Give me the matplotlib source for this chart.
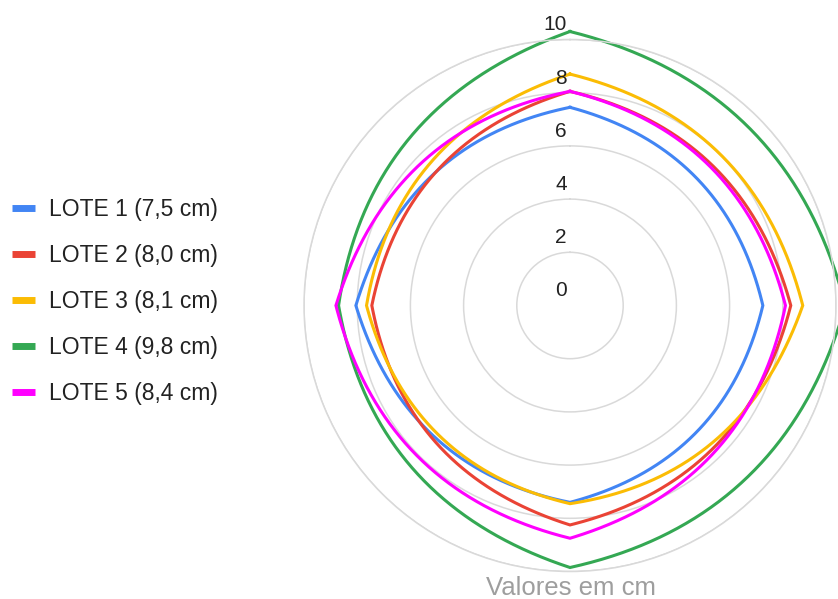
import numpy as np
import matplotlib
matplotlib.use("Agg")
import matplotlib.pyplot as plt
from matplotlib.lines import Line2D

plt.rcParams['font.family'] = ['Liberation Sans', 'DejaVu Sans']

# Radar data: four measurement directions per batch (top, right, bottom, left), in cm
lotes = ["LOTE 1", "LOTE 2", "LOTE 3", "LOTE 4", "LOTE 5"]
lote1 = [7.45, 7.25, 7.40, 8.05]
lote2 = [8.05, 8.30, 8.25, 7.45]
lote3 = [8.70, 8.75, 7.45, 7.65]
lote4 = [10.30, 10.35, 9.85, 8.70]
lote5 = [8.05, 8.10, 8.75, 8.80]
series = [lote1, lote2, lote3, lote4, lote5]
colors = ["#4285F4", "#EA4335", "#FBBC04", "#34A853", "#FF00FF"]

radial_ticks = [0, 2, 4, 6, 8, 10]
axis_title = "Valores em cm"


def rounded_loop(values, bulge=1.13, steps=80):
    """Closed outline through the radar points, each side drawn as a
    quadratic Bezier bowing outwards; returns (theta, r) for a polar axes."""
    vals = np.asarray(values, dtype=float)
    m = len(vals)
    th = np.linspace(0, 2 * np.pi, m, endpoint=False)
    px, py = vals * np.sin(th), vals * np.cos(th)
    t = np.linspace(0, 1, steps)
    xs, ys = [], []
    for i in range(m):
        j = (i + 1) % m
        tm = th[i] + np.pi / m
        rc = bulge * (vals[i] + vals[j]) / 2
        cx, cy = rc * np.sin(tm), rc * np.cos(tm)
        xs.append((1 - t) ** 2 * px[i] + 2 * t * (1 - t) * cx + t ** 2 * px[j])
        ys.append((1 - t) ** 2 * py[i] + 2 * t * (1 - t) * cy + t ** 2 * py[j])
    x = np.concatenate(xs)
    y = np.concatenate(ys)
    return np.arctan2(x, y), np.hypot(x, y)


W, H = 838, 599
fig = plt.figure(figsize=(W / 100, H / 100), dpi=100)
cx_px, cy_px, rad_px = 570, 305.5, 266
ax = fig.add_axes([(cx_px - rad_px) / W, (H - cy_px - rad_px) / H,
                   2 * rad_px / W, 2 * rad_px / H], projection="polar")
ax.set_theta_zero_location("N")
ax.set_theta_direction(-1)
ax.set_ylim(0, 10)
ax.set_yticks(radial_ticks[1:])
ax.set_yticklabels([])
ax.set_xticks([])
ax.grid(True, axis="y", color="#d9d9d9", linewidth=1.1)
ax.grid(False, axis="x")
ax.spines["polar"].set_color("#d9d9d9")
ax.spines["polar"].set_linewidth(1.1)
ax.set_facecolor("none")

for v in radial_ticks:
    ax.annotate(str(v), xy=(0, v), xytext=(-3, 14.5), textcoords="offset pixels",
                ha="right", va="center", fontsize=15, color="#222222",
                annotation_clip=False)

handles = []
labels = []
for name, vals, col in zip(lotes, series, colors):
    th, r = rounded_loop(vals)
    ax.plot(th, r, color=col, lw=2.2, clip_on=False, solid_joinstyle="miter")
    handles.append(Line2D([], [], color=col, lw=5, solid_capstyle="butt"))
    mean = np.mean(vals)
    labels.append(f"{name} ({mean:.1f} cm)".replace(".", ","))

fig.legend(handles, labels, loc="upper left", bbox_to_anchor=(12 / W, (H - 198) / H),
           frameon=False, fontsize=16.5, handlelength=1.02, handletextpad=0.6,
           labelspacing=1.0, borderaxespad=0, borderpad=0, labelcolor="#222222")

fig.text(571 / W, (H - 595) / H, axis_title, ha="center", va="baseline",
         fontsize=18.5, color="#9e9e9e")

fig.savefig("out.png", dpi=100)
